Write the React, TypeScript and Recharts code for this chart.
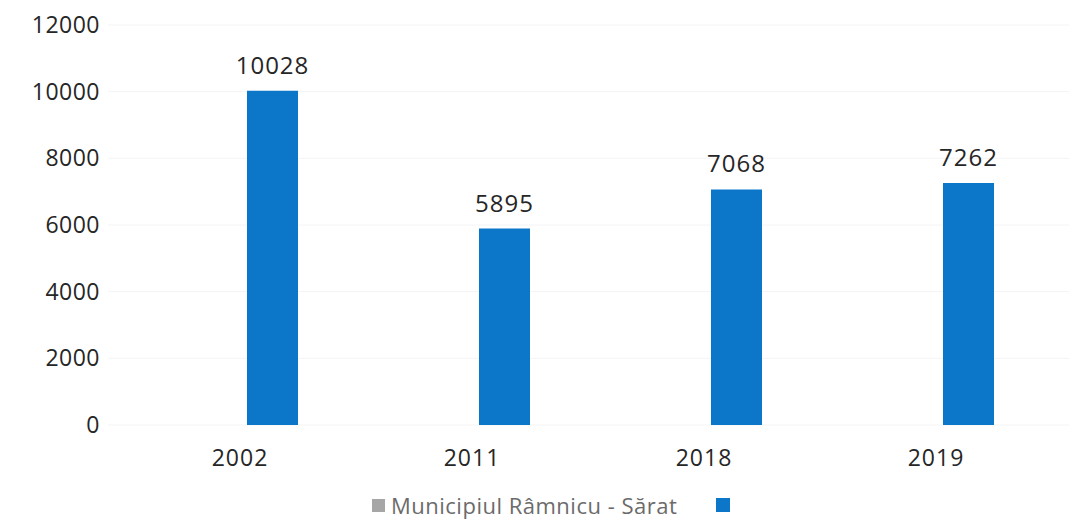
import { BarChart, Bar, XAxis, YAxis, CartesianGrid, Legend, LabelList } from 'recharts';

// page reset so the chart can use the full 1069x521 window
document.body.style.margin = '0';
document.body.style.overflow = 'hidden';

const YEARS = ['2002', '2011', '2018', '2019'];
const MUNICIPIU = [null, null, null, null];
const VALORI = [10028, 5895, 7068, 7262];
const Y_TICKS = [0, 2000, 4000, 6000, 8000, 10000, 12000];
const SERIES_NAMES = ['Municipiul Râmnicu - Sărat', ''];

const FONT = '"Open Sans", sans-serif';
const BLUE = '#0C77C9';
const GRAY = '#A6A6A6';

const data = YEARS.map((an, i) => ({ an, municipiu: MUNICIPIU[i], valoare: VALORI[i] }));

const LegendContent = () => (
  <div style={{
    display: 'flex', alignItems: 'center', height: 24, fontFamily: FONT,
    fontSize: 22, letterSpacing: 0.5, color: '#6B6B6B', lineHeight: '24px',
  }}>
    <span style={{ width: 13, height: 13, background: GRAY, marginRight: 6 }} />
    <span style={{ whiteSpace: 'nowrap' }}>{SERIES_NAMES[0]}</span>
    <span style={{ width: 14, height: 14, background: BLUE, marginLeft: 39 }} />
  </div>
);

export default function App() {
  return (
    <BarChart
      width={1069} height={521} data={data}
      margin={{ top: 25, right: 0, bottom: 42, left: 0 }}
      barSize={51} barGap={13}
    >
      <CartesianGrid vertical={false} stroke="#F4F4F4" />
      <XAxis
        dataKey="an" axisLine={false} tickLine={false} tickMargin={19}
        padding={{ left: 16, right: 17 }}
        tick={{ fill: '#262626', fontSize: 23, fontFamily: FONT, letterSpacing: 1 }}
      />
      <YAxis
        width={108} domain={[0, 12000]} ticks={Y_TICKS} axisLine={false} tickLine={false}
        tick={{ fill: '#262626', fontSize: 23, fontFamily: FONT, letterSpacing: 0.5 }}
      />
      <Legend
        verticalAlign="bottom" content={<LegendContent />}
        wrapperStyle={{ top: 493, bottom: 'auto', left: 372, width: 500 }}
      />
      <Bar dataKey="municipiu" name={SERIES_NAMES[0]} fill={GRAY} isAnimationActive={false} />
      <Bar dataKey="valoare" name={SERIES_NAMES[1]} fill={BLUE} isAnimationActive={false}>
        <LabelList dataKey="valoare" position="top" offset={17}
          style={{ fill: '#262626', fontSize: 24, fontFamily: FONT, letterSpacing: 1 }} />
      </Bar>
    </BarChart>
  );
}
